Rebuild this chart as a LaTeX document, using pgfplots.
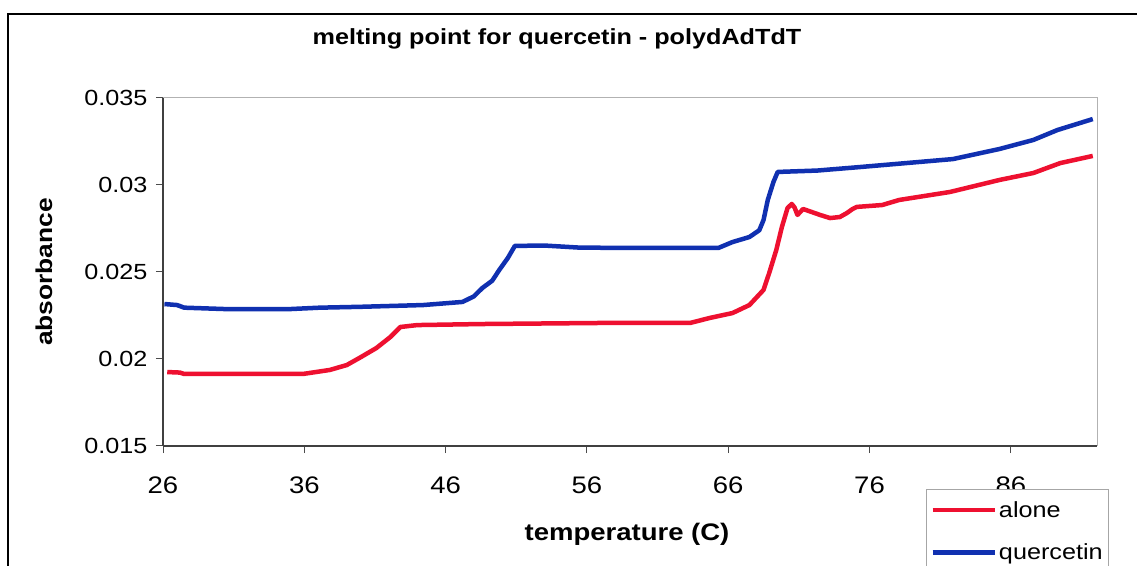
\documentclass[border=0pt]{standalone}
\usepackage{pgfplots}
\pgfplotsset{compat=1.18}
\usepackage{fontspec}
\setmainfont{Liberation Sans}[FakeStretch=1.15]
\definecolor{cred}{RGB}{238,16,48}
\definecolor{cblue}{RGB}{16,48,176}
\begin{document}
\begin{tikzpicture}
\useasboundingbox (0,0) rectangle (1137bp,566bp);
\fill[white] (0,0) rectangle (1137bp,566bp);
\draw[line width=2.5bp, black] (8bp,-20bp) -- (8bp,552bp) -- (1160bp,552bp);
\begin{axis}[
  at={(163bp,120bp)}, anchor=south west,
  scale only axis, width=934bp, height=348bp,
  xmin=26, xmax=92.1, ymin=0.015, ymax=0.035,
  xtick={26,36,...,86}, ytick={0.015,0.02,...,0.035},
  axis x line*=bottom, axis y line*=left,
  axis line style={line width=1.2bp, black!75, -},
  tick align=outside, major tick length=7bp,
  tick style={black!70, line width=1bp},
  scaled y ticks=false,
  /pgf/number format/assume math mode=true,
  yticklabel style={/pgf/number format/fixed, /pgf/number format/precision=3, font=\fontsize{22}{26}\selectfont, xshift=-5bp},
  xticklabel style={font=\fontsize{24}{28}\selectfont, yshift=-20bp},
  title={\bfseries melting point for quercetin - polydAdTdT},
  title style={at={(0.4218,1.152)}, anchor=center, font=\fontsize{22}{26}\selectfont},
  xlabel={\bfseries temperature (C)},
  xlabel style={at={(0.4968,-0.2529)}, anchor=center, font=\fontsize{24}{28}\selectfont},
  ylabel={\bfseries absorbance},
  ylabel style={at={(-0.1274,0.5)}, anchor=center, rotate=0, font=\fontsize{23}{27}\selectfont},
  legend style={at={(0.817,-0.1236)}, anchor=north west, draw=gray!70, line width=0.8bp,
    font=\fontsize{22}{26}\selectfont, cells={anchor=west}, row sep=21bp,
    inner xsep=4bp, inner ysep=10bp},
  legend image code/.code={\draw[#1] (0bp,0bp) -- (62bp,0bp);},
  clip=false,
]
\draw[gray!60, line width=1bp] (rel axis cs:0,1) -- (rel axis cs:1,1) -- (rel axis cs:1,0);
\addplot[cred, line width=4.5bp, line join=round] coordinates {
(26.3,0.01925) (27.2,0.01922) (27.5,0.01914) (35.9,0.01914) (36.4,0.01920)
(37.8,0.01937) (39.0,0.01965) (39.9,0.02006) (41.1,0.02063) (42.1,0.02127)
(42.8,0.02184) (44.0,0.02195) (48.6,0.02201) (56.9,0.02207) (63.3,0.02207)
(64.7,0.02236) (66.3,0.02264) (67.5,0.02310) (68.5,0.02397) (68.9,0.02494)
(69.4,0.02626) (69.8,0.02759) (70.2,0.02868) (70.5,0.02891) (70.7,0.02870)
(70.9,0.02828) (71.3,0.02862) (72.5,0.02828) (73.2,0.02810) (73.9,0.02816)
(74.4,0.02839) (74.8,0.02862) (75.1,0.02874) (76.9,0.02885) (78.1,0.02914)
(81.7,0.02960) (85.2,0.03029) (87.6,0.03069) (89.5,0.03126) (91.8,0.03167)
};
\addlegendentry{alone}
\addplot[cblue, line width=4.5bp, line join=round] coordinates {
(26.1,0.02316) (27.0,0.02310) (27.5,0.02295) (30.4,0.02287) (35.0,0.02287)
(37.1,0.02295) (40.0,0.02300) (44.4,0.02310) (47.2,0.02328) (48.0,0.02360)
(48.6,0.02408) (49.3,0.02450) (49.8,0.02512) (50.4,0.02580) (50.9,0.02650)
(53.0,0.02652) (55.5,0.02640) (60.0,0.02638) (65.3,0.02638) (66.3,0.02672)
(67.5,0.02701) (68.2,0.02740) (68.5,0.02799) (68.8,0.02914) (69.2,0.03017)
(69.5,0.03075) (72.3,0.03083) (75.3,0.03103) (78.6,0.03126) (81.9,0.03149)
(85.2,0.03207) (87.6,0.03259) (89.3,0.03316) (91.8,0.03379)
};
\addlegendentry{quercetin}
\end{axis}
\end{tikzpicture}
\end{document}
